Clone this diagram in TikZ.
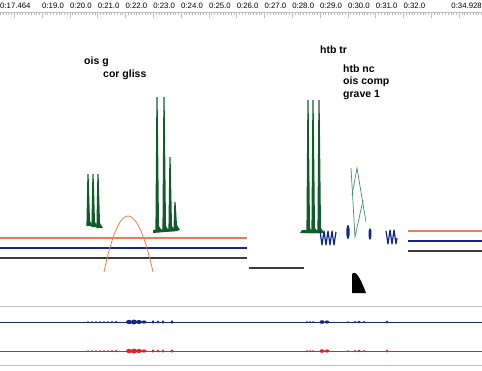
\documentclass[tikz,border=0pt]{standalone}
\usepackage{fontspec}
\setmainfont{Liberation Sans}
\definecolor{spikegreen}{RGB}{18,92,44}
\definecolor{thingreen}{RGB}{70,140,100}
\definecolor{tracenavy}{RGB}{20,40,130}
\definecolor{traceorange}{RGB}{240,125,70}
\definecolor{tracegray}{RGB}{60,60,60}
\definecolor{wavered}{RGB}{230,30,40}
\definecolor{rulergray}{RGB}{190,190,190}
\newcommand{\gspike}[3]{\fill[spikegreen] (#1-0.6,#2) -- (#1+0.6,#2) -- (#1+2,#3-5) -- (#1+5,#3) -- (#1-1.6,#3) -- cycle;}
\begin{document}
\begin{tikzpicture}[x=1pt,y=-1pt]
\tikzstyle{every node}=[inner sep=0pt]
\tikzstyle{cue}=[font=\fontsize{10.5}{12}\selectfont\bfseries,anchor=west]
\tikzstyle{tick}=[font=\fontsize{7.8}{8}\selectfont,anchor=west]
\tikzstyle{held}=[line width=1.1pt]
\useasboundingbox (0,0) rectangle (482,370);
% time ruler
\draw[rulergray,line width=0.4pt] (0,12) -- (482,12);
\foreach \t in {175,...,349}
  \draw[rulergray,line width=0.3pt] ({42+(\t/10-19)*27.8},12) -- ++(0,2.5);
\foreach \n in {18,...,34}
  \draw[rulergray,line width=0.4pt] ({42+(\n-19)*27.8},12) -- ++(0,6);
\node[tick] (t0) at (0,6) {0:17.464};
\foreach \n in {19,...,32}
  \node[tick] (t\n) at ({42+(\n-19)*27.8},6) {0:\n.0};
\node[tick,anchor=east] (tend) at (482,6) {0:34.928};
% labels
\node[cue] (oisg) at (84,62) {ois g};
\node[cue] (corgl) at (103,75) {cor gliss};
\node[cue] (htbtr) at (320,50) {htb tr};
\node[cue] (htbnc) at (343,69) {htb nc};
\node[cue] (oiscp) at (343,82) {ois comp};
\node[cue] (grave) at (343,95) {grave 1};
% held lines
\draw[held,traceorange] (0,238) -- (247,238);
\draw[held,tracenavy] (0,248) -- (247,248);
\draw[held,tracegray] (0,258) -- (247,258);
\draw[held,tracegray] (249,268) -- (304,268);
\draw[held,traceorange] (408,231) -- (482,231);
\draw[held,tracenavy] (408,241) -- (482,241);
\draw[held,tracegray] (408,251) -- (482,251);
% glissando arch
\draw[traceorange,line width=0.8pt] (104,272) parabola bend (128,216) (153,272);
% green spikes
\gspike{88}{174}{226}
\gspike{93}{174}{227}
\gspike{98}{174}{228}
\gspike{157}{97}{231}
\gspike{164}{97}{231}
\gspike{170}{157}{231}
\gspike{175}{202}{230}
\fill[spikegreen] (153,233) -- (178,231) -- (178,228) -- (153,230) -- cycle;
\gspike{308}{100}{233}
\gspike{313}{100}{233}
\gspike{319}{100}{233}
\fill[spikegreen] (300,233) -- (322,233) -- (322,230) -- (302,230) -- cycle;
% thin green line
\draw[thingreen,line width=0.7pt] (351,168) -- (355,237) -- (363,200);
\draw[thingreen,line width=0.7pt] (352,195) -- (357,168) -- (366,222);
% blue trills
\draw[tracenavy,line width=1.2pt,line join=round] (320,231) -- (322,245) -- (324,231) -- (326,245) -- (328,231)
  -- (330,245) -- (332,231) -- (334,245) -- (336,232);
\draw[tracenavy,line width=1.2pt,line join=round] (386,231) -- (388,244) -- (390,230) -- (392,244) -- (394,230)
  -- (396,244) -- (397,238);
\fill[tracenavy] (348,232) ellipse (1.7pt and 7pt);
\fill[tracenavy] (370,234) ellipse (1.5pt and 6pt);
% grave
\fill[black] (352,293) -- (352,274) .. controls (356,269) and (361,280) .. (366,293) -- cycle;
% waveforms
\draw[rulergray,line width=0.5pt] (0,306) -- (482,306);
\draw[rulergray,line width=0.5pt] (0,365) -- (482,365);
\draw[tracenavy,line width=0.4pt] (0,322) -- (482,322);
\draw[wavered,line width=0.4pt] (0,351) -- (482,351);
\draw[tracenavy,line width=0.8pt] (0,322) -- (70,322) (433,322) -- (482,322);
\draw[wavered,line width=0.8pt] (0,351) -- (70,351) (433,351) -- (482,351);
\foreach \x/\w/\h in {88/0.8/0.9, 92/0.8/0.9, 96/0.8/0.9, 100/0.8/0.9, 104/0.8/0.9, 108/0.8/0.9,
  112/1/1.2, 116/1/1.3, 129/3/2.2, 134/3/2.5, 139/3/2, 144/2.5/1.6, 153/1.3/1.8, 158/1.2/1.6,
  163/1.2/1.8, 172/1.4/1.9, 307/0.8/1.2, 310/0.8/1.2, 313/0.8/1.2, 322/2.5/1.8, 327/2.2/1.6,
  348/1/1, 355/1.2/1.2, 359/1.8/1.3, 364/1.2/1.2, 387/1.3/1.6}
{
  \fill[tracenavy] (\x,322) ellipse (\w pt and \h pt);
  \fill[wavered] (\x,351) ellipse (\w pt and \h pt);
}
\end{tikzpicture}
\end{document}
